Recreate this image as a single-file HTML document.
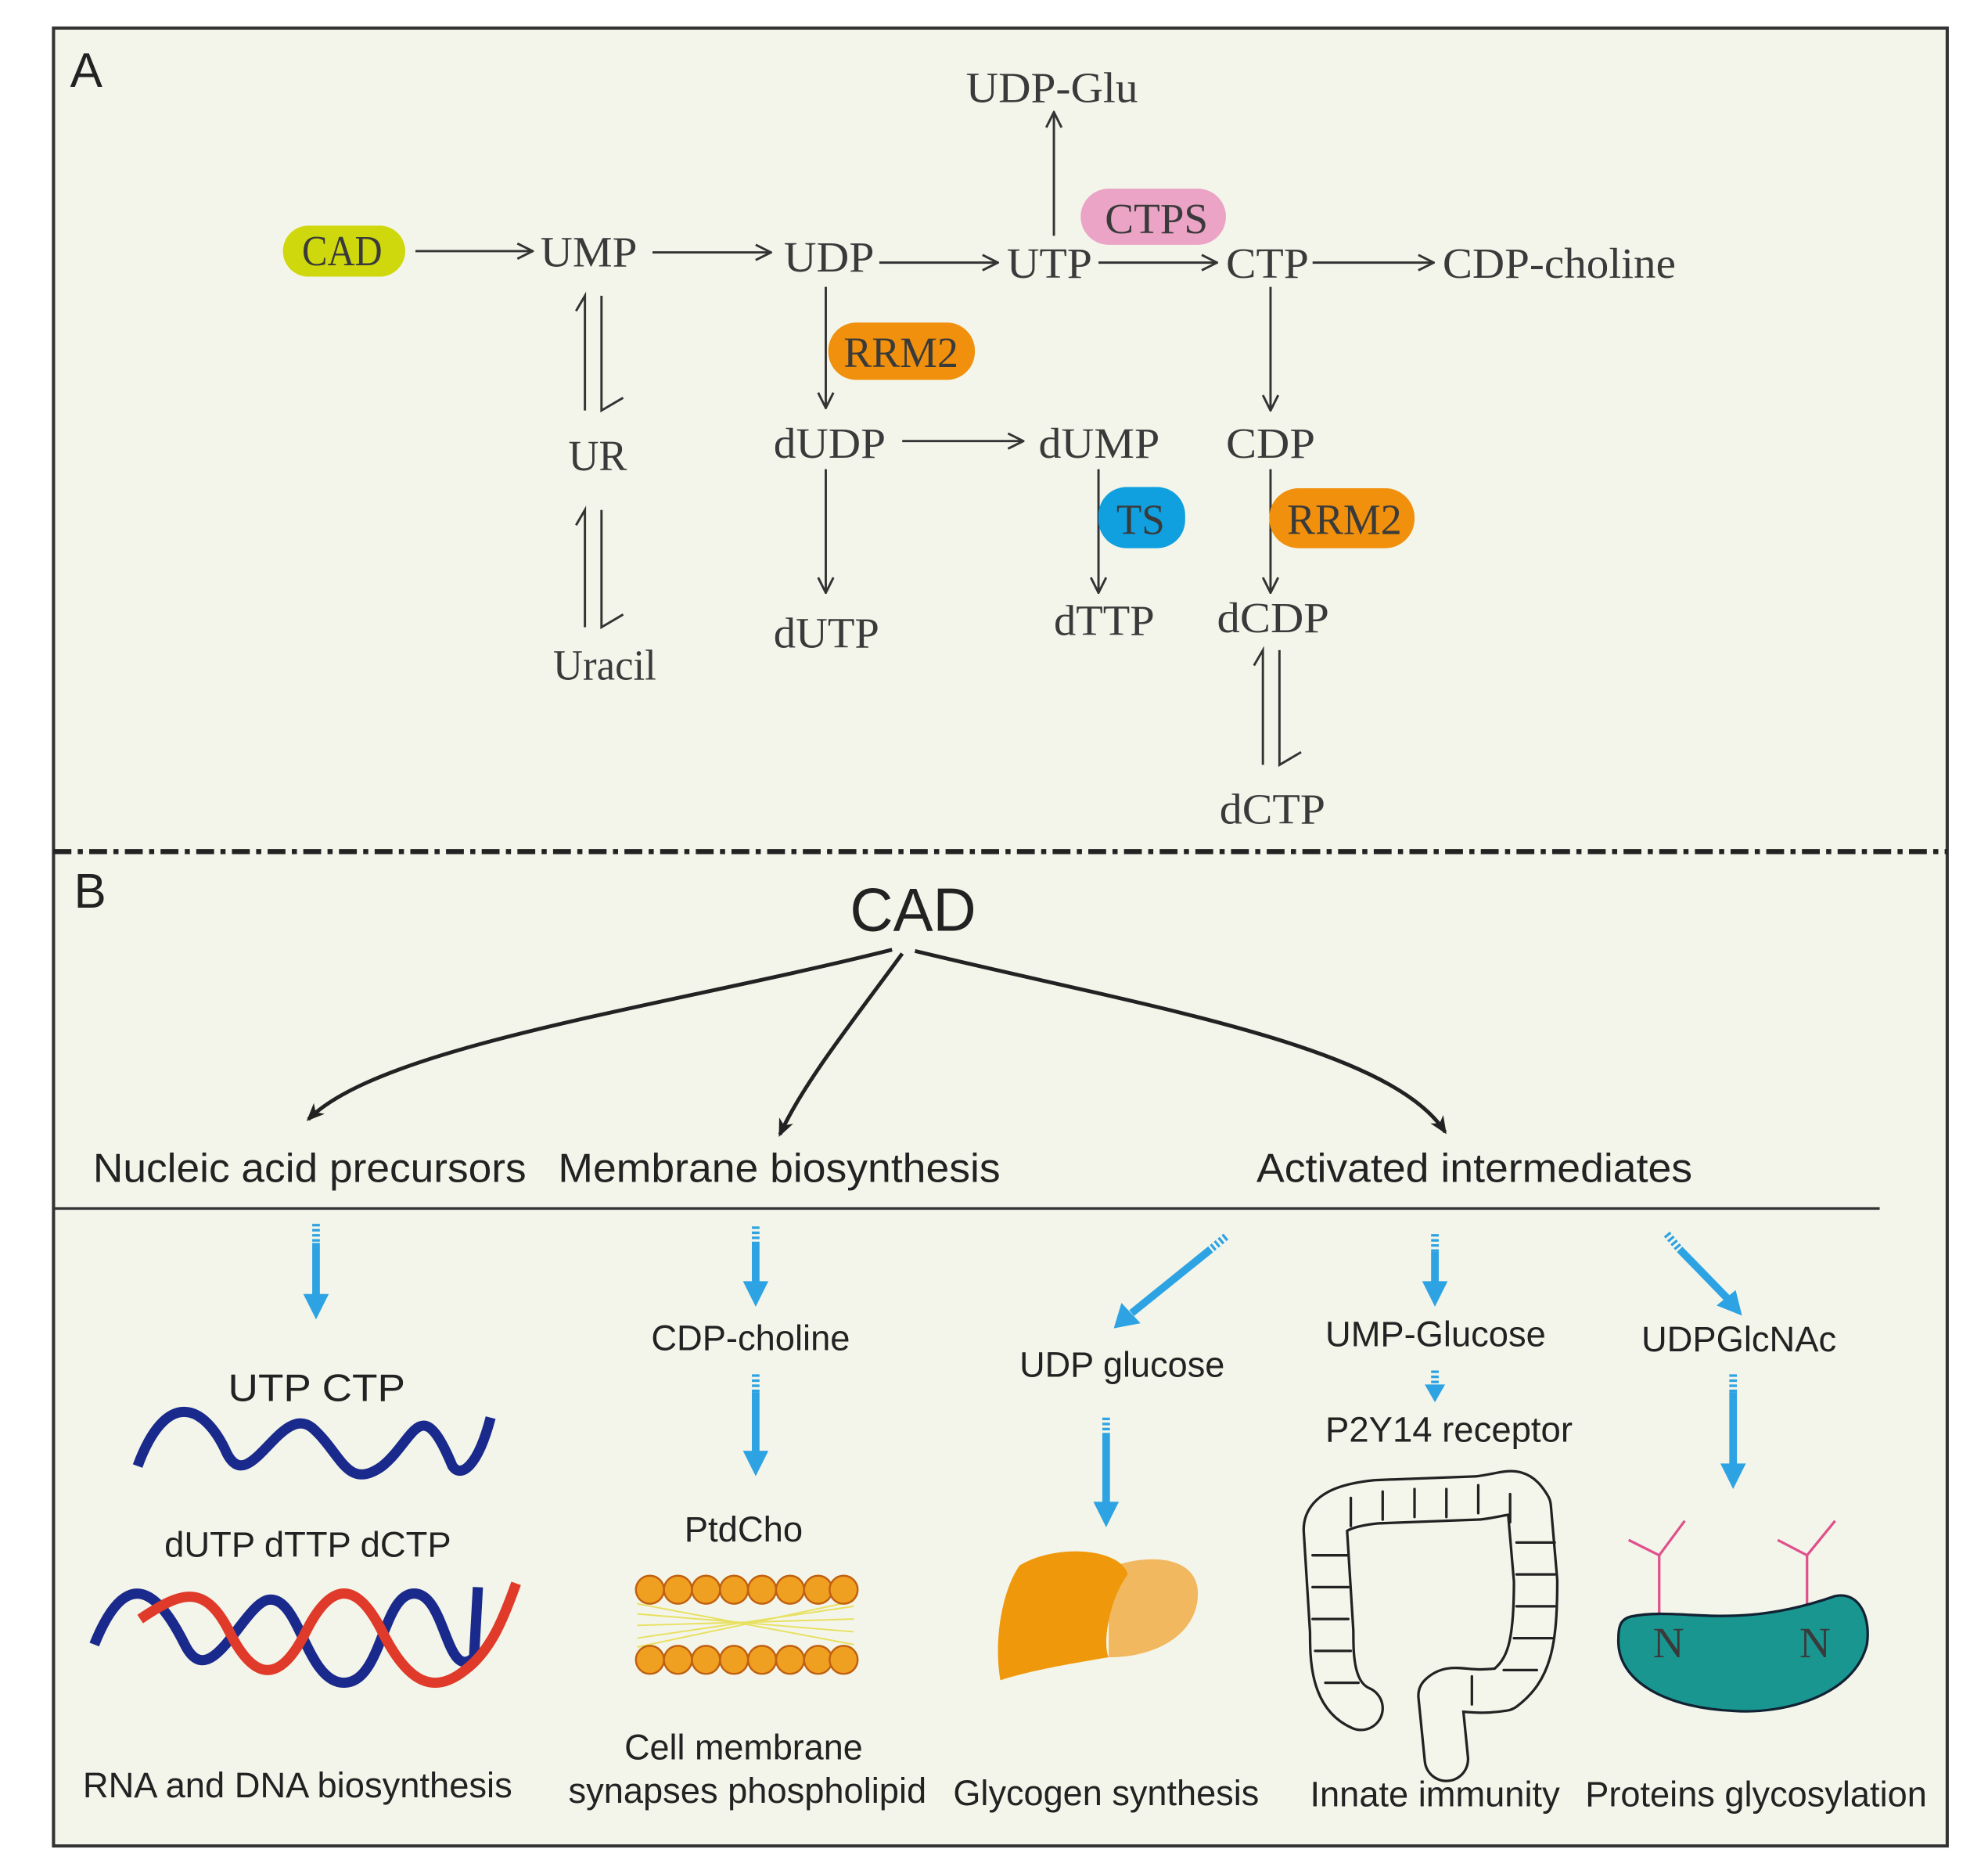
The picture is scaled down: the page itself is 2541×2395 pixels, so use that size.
<!DOCTYPE html>
<html><head><meta charset="utf-8"><style>
html,body{margin:0;padding:0;background:#fff}
svg{display:block}
.s{font-family:"Liberation Serif",serif;fill:#3a3a3a;font-size:34px}
.a{font-family:"Liberation Sans",sans-serif;fill:#222}
</style></head><body>
<svg width="2541" height="2395" viewBox="0 0 1560 1470" preserveAspectRatio="none" xmlns="http://www.w3.org/2000/svg">
<defs>
<marker id="ah" markerWidth="14" markerHeight="14" refX="13" refY="7" orient="auto" markerUnits="userSpaceOnUse">
<path d="M1,1 L13,7 L1,13" fill="none" stroke="#333" stroke-width="1.8"/></marker>
<marker id="bh" markerWidth="16" markerHeight="16" refX="12" refY="8" orient="auto" markerUnits="userSpaceOnUse">
<path d="M0,2 L14,8 L0,14 L4,8Z" fill="#222"/></marker>
</defs>
<rect x="42" y="22" width="1486" height="1426" fill="#f3f5ea" stroke="#333" stroke-width="2.5"/>
<text x="55" y="68" class="a" font-size="38">A</text>
<line x1="42" y1="668" x2="1528" y2="668" stroke="#222" stroke-width="4" stroke-dasharray="14,5,4,5"/>
<text x="58" y="712" class="a" font-size="38">B</text>

<g stroke="#333" stroke-width="1.8" fill="none">
<line x1="326" y1="197" x2="418" y2="197" marker-end="url(#ah)"/>
<line x1="512" y1="198" x2="605" y2="198" marker-end="url(#ah)"/>
<line x1="690" y1="206" x2="783" y2="206" marker-end="url(#ah)"/>
<line x1="862" y1="206" x2="955" y2="206" marker-end="url(#ah)"/>
<line x1="1030" y1="206" x2="1125" y2="206" marker-end="url(#ah)"/>
<line x1="827" y1="185" x2="827" y2="88" marker-end="url(#ah)"/>
<line x1="648" y1="225" x2="648" y2="320" marker-end="url(#ah)"/>
<line x1="708" y1="346" x2="803" y2="346" marker-end="url(#ah)"/>
<line x1="648" y1="368" x2="648" y2="465" marker-end="url(#ah)"/>
<line x1="862" y1="368" x2="862" y2="465" marker-end="url(#ah)"/>
<line x1="997" y1="225" x2="997" y2="322" marker-end="url(#ah)"/>
<line x1="997" y1="368" x2="997" y2="465" marker-end="url(#ah)"/>
<path d="M459,322 V232 L452,244"/><path d="M472,232 V322 L489,312"/>
<path d="M459,492 V400 L452,412"/><path d="M472,400 V492 L489,482"/>
<path d="M991,600 V510 L984,522"/><path d="M1004,510 V600 L1021,590"/>
</g>
<rect x="222" y="177" width="96" height="40" rx="20" fill="#cfd80c"/>
<text x="237" y="208" class="s" font-size="28" textLength="63" lengthAdjust="spacingAndGlyphs">CAD</text>
<rect x="848" y="148" width="114" height="44" rx="22" fill="#eba3c6"/>
<text x="867" y="183" class="s" font-size="32" textLength="81" lengthAdjust="spacingAndGlyphs">CTPS</text>
<rect x="650" y="253" width="115" height="45" rx="22" fill="#f0900c"/>
<text x="662" y="288" class="s" font-size="32" textLength="90" lengthAdjust="spacingAndGlyphs">RRM2</text>
<rect x="862" y="382" width="68" height="48" rx="22" fill="#10a0e0"/>
<text x="876" y="419" class="s" font-size="32" textLength="38" lengthAdjust="spacingAndGlyphs">TS</text>
<rect x="996" y="383" width="114" height="47" rx="23" fill="#f0900c"/>
<text x="1010" y="419" class="s" font-size="32" textLength="90" lengthAdjust="spacingAndGlyphs">RRM2</text>

<g class="s" lengthAdjust="spacingAndGlyphs">
<text x="758" y="80" textLength="135" lengthAdjust="spacingAndGlyphs">UDP-Glu</text>
<text x="424" y="209" textLength="76" lengthAdjust="spacingAndGlyphs">UMP</text>
<text x="615" y="213" textLength="71" lengthAdjust="spacingAndGlyphs">UDP</text>
<text x="790" y="218" textLength="67" lengthAdjust="spacingAndGlyphs">UTP</text>
<text x="962" y="218" textLength="65" lengthAdjust="spacingAndGlyphs">CTP</text>
<text x="1132" y="218" textLength="183" lengthAdjust="spacingAndGlyphs">CDP-choline</text>
<text x="446" y="369" textLength="46" lengthAdjust="spacingAndGlyphs">UR</text>
<text x="434" y="533" textLength="81" lengthAdjust="spacingAndGlyphs">Uracil</text>
<text x="607" y="359" textLength="88" lengthAdjust="spacingAndGlyphs">dUDP</text>
<text x="815" y="359" textLength="95" lengthAdjust="spacingAndGlyphs">dUMP</text>
<text x="962" y="359" textLength="70" lengthAdjust="spacingAndGlyphs">CDP</text>
<text x="607" y="508" textLength="83" lengthAdjust="spacingAndGlyphs">dUTP</text>
<text x="827" y="498" textLength="79" lengthAdjust="spacingAndGlyphs">dTTP</text>
<text x="955" y="496" textLength="88" lengthAdjust="spacingAndGlyphs">dCDP</text>
<text x="957" y="646" textLength="83" lengthAdjust="spacingAndGlyphs">dCTP</text>
</g>

<text x="667" y="730" class="a" font-size="48" textLength="99" lengthAdjust="spacingAndGlyphs">CAD</text>
<g stroke="#222" stroke-width="3" fill="none">
<path d="M700,745 C520,790 300,820 242,878" marker-end="url(#bh)"/>
<path d="M708,748 C670,800 630,850 612,890" marker-end="url(#bh)"/>
<path d="M718,746 C900,790 1090,820 1134,888" marker-end="url(#bh)"/>
</g>
<g class="a" font-size="32">
<text x="73" y="927" textLength="340" lengthAdjust="spacingAndGlyphs">Nucleic acid precursors</text>
<text x="438" y="927" textLength="347" lengthAdjust="spacingAndGlyphs">Membrane biosynthesis</text>
<text x="986" y="927" textLength="342" lengthAdjust="spacingAndGlyphs">Activated intermediates</text>
</g>
<line x1="42" y1="948" x2="1475" y2="948" stroke="#333" stroke-width="2"/>

<g stroke="#2ea3e3" stroke-width="6" fill="#2ea3e3">
<line x1="248" y1="960" x2="248" y2="975" stroke-dasharray="2,2"/><line x1="248" y1="975" x2="248" y2="1018"/><path d="M238,1015 H258 L248,1035Z" stroke="none"/>
<line x1="593" y1="962" x2="593" y2="975" stroke-dasharray="2,2"/><line x1="593" y1="975" x2="593" y2="1008"/><path d="M583,1005 H603 L593,1025Z" stroke="none"/>
<line x1="593" y1="1078" x2="593" y2="1092" stroke-dasharray="2,2"/><line x1="593" y1="1092" x2="593" y2="1140"/><path d="M583,1138 H603 L593,1158Z" stroke="none"/>
<line x1="868" y1="1112" x2="868" y2="1126" stroke-dasharray="2,2"/><line x1="868" y1="1126" x2="868" y2="1180"/><path d="M858,1178 H878 L868,1198Z" stroke="none"/>
<line x1="1126" y1="968" x2="1126" y2="982" stroke-dasharray="2,2"/><line x1="1126" y1="982" x2="1126" y2="1008"/><path d="M1116,1005 H1136 L1126,1025Z" stroke="none"/>
<line x1="1126" y1="1075" x2="1126" y2="1085" stroke-dasharray="2,2"/><path d="M1118,1086 H1134 L1126,1100Z" stroke="none"/>
<line x1="1360" y1="1078" x2="1360" y2="1092" stroke-dasharray="2,2"/><line x1="1360" y1="1092" x2="1360" y2="1150"/><path d="M1350,1148 H1370 L1360,1168Z" stroke="none"/>
<line x1="962" y1="970" x2="950" y2="980" stroke-dasharray="2,2"/><line x1="950" y1="980" x2="888" y2="1030"/><path d="M880,1022 L895,1038 L874,1042Z" stroke="none"/>
<line x1="1308" y1="968" x2="1318" y2="980" stroke-dasharray="2,2"/><line x1="1318" y1="980" x2="1355" y2="1018"/><path d="M1347,1024 L1362,1012 L1367,1032Z" stroke="none"/>
</g>

<g class="a" font-size="28">
<text x="511" y="1059" textLength="156" lengthAdjust="spacingAndGlyphs">CDP-choline</text>
<text x="537" y="1209" textLength="93" lengthAdjust="spacingAndGlyphs">PtdCho</text>
<text x="800" y="1080" textLength="161" lengthAdjust="spacingAndGlyphs">UDP glucose</text>
<text x="1040" y="1056" textLength="173" lengthAdjust="spacingAndGlyphs">UMP-Glucose</text>
<text x="1040" y="1131" textLength="194" lengthAdjust="spacingAndGlyphs">P2Y14 receptor</text>
<text x="1288" y="1060" textLength="153" lengthAdjust="spacingAndGlyphs">UDPGlcNAc</text>
<text x="179" y="1099" font-size="30" textLength="139" lengthAdjust="spacingAndGlyphs">UTP CTP</text>
<text x="129" y="1221" textLength="225" lengthAdjust="spacingAndGlyphs">dUTP dTTP dCTP</text>
<text x="65" y="1410" textLength="337" lengthAdjust="spacingAndGlyphs">RNA and DNA biosynthesis</text>
<text x="490" y="1380" textLength="187" lengthAdjust="spacingAndGlyphs">Cell membrane</text>
<text x="446" y="1414" textLength="281" lengthAdjust="spacingAndGlyphs">synapses phospholipid</text>
<text x="748" y="1416" textLength="240" lengthAdjust="spacingAndGlyphs">Glycogen synthesis</text>
<text x="1028" y="1417" textLength="196" lengthAdjust="spacingAndGlyphs">Innate immunity</text>
<text x="1244" y="1417" textLength="268" lengthAdjust="spacingAndGlyphs">Proteins glycosylation</text>
</g>

<path d="M108,1150 C130,1090 160,1100 178,1140 C196,1175 220,1100 245,1120 C268,1140 272,1170 300,1150 C325,1130 330,1090 355,1150 C362,1160 375,1150 385,1112" fill="none" stroke="#1a2a8c" stroke-width="8"/>
<path d="M74,1290 C100,1225 125,1250 145,1290 C165,1330 190,1260 210,1255 C235,1250 240,1320 270,1320 C300,1320 300,1250 325,1250 C350,1250 350,1320 372,1300 L375,1245" fill="none" stroke="#1a2a8c" stroke-width="8"/>
<path d="M110,1270 C140,1250 160,1240 180,1280 C200,1320 220,1320 240,1280 C260,1240 280,1240 300,1280 C320,1320 340,1330 365,1310 C385,1295 395,1270 405,1242" fill="none" stroke="#e03a2a" stroke-width="8"/>

<g stroke="#e8e060" stroke-width="1.2">
<path d="M500,1258 L670,1290 M500,1266 L670,1280 M500,1275 L670,1270 M500,1285 L670,1260 M500,1292 L670,1256"/>
</g>
<g fill="#f0a020" stroke="#c06010" stroke-width="1.5">
<circle cx="510" cy="1247" r="11"/><circle cx="532" cy="1247" r="11"/><circle cx="554" cy="1247" r="11"/><circle cx="576" cy="1247" r="11"/><circle cx="598" cy="1247" r="11"/><circle cx="620" cy="1247" r="11"/><circle cx="642" cy="1247" r="11"/><circle cx="662" cy="1247" r="11"/>
<circle cx="510" cy="1302" r="11"/><circle cx="532" cy="1302" r="11"/><circle cx="554" cy="1302" r="11"/><circle cx="576" cy="1302" r="11"/><circle cx="598" cy="1302" r="11"/><circle cx="620" cy="1302" r="11"/><circle cx="642" cy="1302" r="11"/><circle cx="662" cy="1302" r="11"/>
</g>

<path d="M870,1230 C900,1218 940,1220 940,1250 C940,1280 910,1300 870,1300Z" fill="#f2b860"/>
<path d="M800,1228 C830,1210 880,1215 885,1235 C870,1255 865,1290 870,1300 C840,1305 810,1310 785,1318 C780,1290 785,1250 800,1228Z" fill="#f0980c"/>

<g fill="none" stroke-linecap="round" stroke-linejoin="round">
<path d="M1068,1340 C1045,1330 1045,1300 1045,1280 L1040,1200 C1040,1185 1060,1180 1080,1178 L1160,1175 C1185,1172 1190,1165 1200,1182 L1205,1240 C1205,1290 1200,1310 1180,1325 C1150,1330 1140,1320 1130,1330 L1135,1380" stroke="#222" stroke-width="36"/>
<path d="M1068,1340 C1045,1330 1045,1300 1045,1280 L1040,1200 C1040,1185 1060,1180 1080,1178 L1160,1175 C1185,1172 1190,1165 1200,1182 L1205,1240 C1205,1290 1200,1310 1180,1325 C1150,1330 1140,1320 1130,1330 L1135,1380" stroke="#f4f6ec" stroke-width="32"/>
<path d="M1030,1220 h28 M1030,1245 h28 M1030,1270 h28 M1032,1295 h28 M1040,1320 h26 M1060,1175 v22 M1085,1170 v22 M1110,1168 v22 M1135,1168 v22 M1160,1165 v22 M1185,1172 v22 M1190,1210 h30 M1190,1235 h30 M1190,1260 h30 M1188,1285 h30 M1180,1310 h26 M1155,1315 v22" stroke="#222" stroke-width="2"/>
</g>

<path d="M1302,1268 V1220 M1302,1220 L1278,1208 M1302,1220 L1322,1193 M1418,1262 V1220 M1418,1220 L1395,1208 M1418,1220 L1440,1193" stroke="#e0508c" stroke-width="2" fill="none"/>
<path d="M1280,1268 C1320,1260 1360,1280 1440,1252 C1460,1248 1468,1270 1465,1290 C1455,1330 1400,1345 1360,1342 C1310,1340 1268,1320 1270,1285 C1270,1275 1272,1270 1280,1268Z" fill="#1a9690" stroke="#123" stroke-width="2"/>
<text x="1297" y="1300" class="s" font-size="14" fill="#234">N</text>
<text x="1412" y="1300" class="s" font-size="14" fill="#234">N</text>
</svg>
</body></html>
